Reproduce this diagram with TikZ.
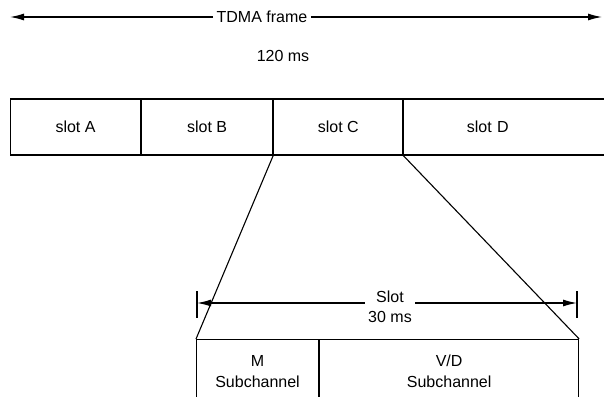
\documentclass[tikz,border=0pt]{standalone}
\usepackage{fontspec}
\setmainfont{Liberation Sans}
\usetikzlibrary{arrows.meta}

\tikzset{
  slotbox/.style={draw, line width=1.1pt, minimum height=56pt, anchor=west, inner sep=0pt},
  subbox/.style={draw, line width=1.1pt, minimum height=64pt, anchor=north west, align=center, inner sep=0pt},
  dimline/.style={line width=1.3pt, {Latex[length=14pt,width=7pt]}-{Latex[length=14pt,width=7pt]}},
}

\begin{document}
\begin{tikzpicture}[x=1pt, y=-1pt, font=\fontsize{16}{20}\selectfont]

\clip (0,0) rectangle (604,396);

% TDMA frame
\node (frame) at (262,17) {TDMA frame};
\node (frametime) at (283,56) {120 ms};
\coordinate (fleft) at (10,17);
\coordinate (fright) at (602,17);
\draw[line width=1.3pt, -{Latex[length=14pt,width=7pt]}] (frame.west) -- (fleft);
\draw[line width=1.3pt, -{Latex[length=14pt,width=7pt]}] (frame.east) -- (fright);

% slots
\node[slotbox, minimum width=130pt] (slotA) at (10,127) {slot A};
\node[slotbox, minimum width=131pt] (slotB) at (slotA.east) {slot B};
\node[slotbox, minimum width=129pt] (slotC) at (slotB.east) {slot C};
\node[slotbox, minimum width=220pt, text width=220pt, align=left] (slotD) at (slotC.east) {\hspace{63pt}slot D};

% zoomed slot
\node[subbox, minimum width=122pt, font=\fontsize{16}{21}\selectfont] (msub) at (196,339) {M\\Subchannel};
\node[subbox, minimum width=259pt, font=\fontsize{16}{21}\selectfont] (vdsub) at (msub.north east) {V/D\\Subchannel};

\draw[line width=1.1pt] (slotC.south west) -- (msub.north west);
\draw[line width=1.1pt] (slotC.south east) -- (vdsub.north east);

% slot length
\node[align=center] (slotlen) at (390,307) {Slot\\30 ms};
\coordinate (sleft) at (197,303);
\coordinate (sright) at (577,303);
\draw[line width=1.1pt] (197,291) -- (197,318);
\draw[line width=1.1pt] (577,291) -- (577,318);
\draw[dimline, -{Latex[length=14pt,width=7pt]}] (slotlen.west |- sleft) -- (sleft);
\draw[dimline, -{Latex[length=14pt,width=7pt]}] (slotlen.east |- sright) -- (sright);

\end{tikzpicture}
\end{document}
